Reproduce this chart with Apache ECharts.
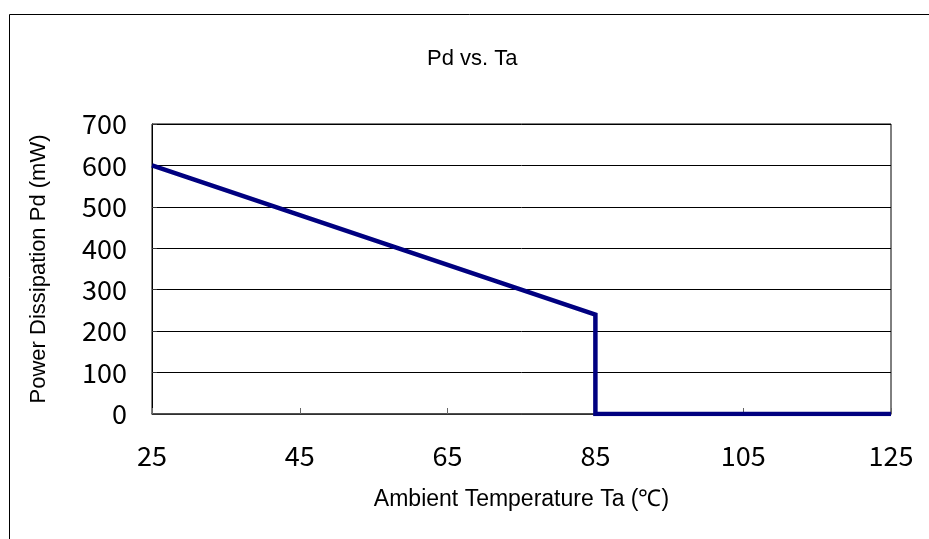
<!DOCTYPE html>
<html>
<head>
<meta charset="utf-8">
<script src="https://cdn.jsdelivr.net/npm/echarts@6/dist/echarts.min.js"></script>
<style>
  html, body { margin: 0; padding: 0; background: #fff; }
  #chart { width: 929px; height: 539px; }
</style>
</head>
<body>
<div id="chart"></div>
<script>
// Pd derating curve
const ta = [25, 85, 85, 125]
const pd = [600, 240, 0, 0]
const xTicks = [25, 45, 65, 85, 105, 125]
const yTicks = [0, 100, 200, 300, 400, 500, 600, 700]

const chart = echarts.init(document.getElementById('chart'))

const numFont = '"Noto Sans CJK JP", "Liberation Sans", sans-serif'
const txtFont = '"Liberation Sans", Arial, sans-serif'

const option = {
  backgroundColor: '#fff',
  animation: false,
  title: {
    text: 'Pd vs. Ta',
    left: 422,
    top: 43,
    textStyle: { fontFamily: txtFont, fontSize: 22, fontWeight: 'normal', color: '#000' },
  },
  grid: {
    left: 152,
    top: 124,
    right: 38,
    bottom: 125,
    show: true,
    borderColor: '#000',
    borderWidth: 1,
  },
  xAxis: {
    type: 'value',
    min: xTicks[0],
    max: xTicks[xTicks.length - 1],
    interval: 20,
    name: 'Ambient Temperature Ta (℃)',
    nameLocation: 'middle',
    nameGap: 74,
    nameTextStyle: { fontFamily: txtFont, fontSize: 23, color: '#000' },
    axisLine: { lineStyle: { color: '#404040', width: 1.5 } },
    axisTick: { inside: true, length: 6, lineStyle: { color: '#666' } },
    axisLabel: { fontFamily: numFont, fontSize: 27, color: '#000', margin: 28 },
    splitLine: { show: false },
  },
  yAxis: {
    type: 'value',
    min: yTicks[0],
    max: yTicks[yTicks.length - 1],
    interval: 100,
    name: 'Power Dissipation Pd (mW)',
    nameLocation: 'middle',
    nameGap: 102,
    nameTextStyle: { fontFamily: txtFont, fontSize: 22, color: '#000' },
    axisLine: { show: true, lineStyle: { color: '#000', width: 1 } },
    axisTick: { show: true, inside: true, length: 5, lineStyle: { color: '#333' } },
    axisLabel: { fontFamily: numFont, fontSize: 27, color: '#000', margin: 25 },
    splitLine: { show: true, lineStyle: { color: '#000', width: 1 } },
  },
  graphic: [
    {
      type: 'rect',
      shape: { x: 9.5, y: 14.5, width: 940, height: 540 },
      style: { fill: 'none', stroke: '#000', lineWidth: 1 },
      silent: true,
    },
  ],
  series: [
    {
      type: 'line',
      data: ta.map((t, i) => [t, pd[i]]),
      symbol: 'none',
      lineStyle: { color: '#000080', width: 4.5, join: 'miter' },
      z: 5,
    },
  ],
}

chart.setOption(option)
</script>
</body>
</html>
